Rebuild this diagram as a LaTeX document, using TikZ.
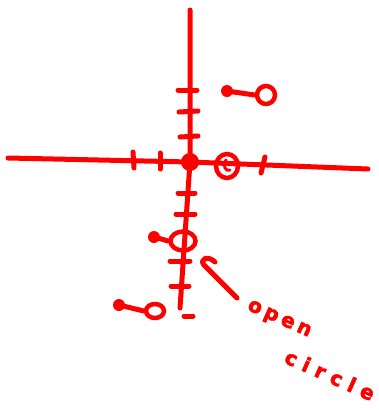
\documentclass[tikz,border=0pt]{standalone}
\usepackage{fontspec}
\usetikzlibrary{shapes.geometric}
\newfontfamily\handfont[FakeBold=2.5]{DejaVu Sans}
\begin{document}
\begin{tikzpicture}[x=1pt,y=-1pt,
  pen/.style={red, line width=5pt, line cap=round, line join=round},
  dotn/.style={circle, fill=red, inner sep=0pt, minimum size=12pt},
  ocirc/.style={ellipse, draw=red, line width=4.5pt, inner sep=0pt},
  lbl/.style={text=red, font=\handfont\bfseries\fontsize{20}{22}\selectfont, rotate=-24, inner sep=0pt}]
\useasboundingbox (0,0) rectangle (379,410);
% axes
\coordinate (xl) at (8,158);
\coordinate (xr) at (368,169);
\coordinate (yt) at (190,10);
\coordinate (yb) at (180,308);
\node[dotn, minimum size=18pt] (o) at (190,162) {};
\draw[pen] (xl) -- (o.center) -- (xr);
\draw[pen] (yt) -- (o.center) -- (yb);
\draw[pen] (184,316) -- (193,316);
% vertical ticks
\draw[pen] (178,90) -- (197,90);
\draw[pen] (179,112) -- (198,111);
\draw[pen] (180,137) -- (198,136);
\draw[pen] (178,193) -- (195,193);
\draw[pen] (176,214) -- (195,214);
\draw[pen] (170,261) -- (190,261);
\draw[pen] (171,286) -- (189,286);
% horizontal ticks
\draw[pen] (133,152) -- (134,168);
\draw[pen] (160,153) -- (160,169);
\draw[pen] (265,157) -- (261,173);
% open circle on x axis
\node[ocirc, minimum width=22pt, minimum height=24pt] (cx) at (227,166) {};
\draw[red, line width=3pt, line cap=round] (226,160) .. controls (222,166) and (226,172) .. (230,170);
% open circle on y axis with dot
\node[ocirc, minimum width=25pt, minimum height=19pt] (cy) at (183,241) {};
\node[dotn] (dy) at (154,237) {};
\draw[pen] (dy.center) -- (cy.west);
% top right
\node[dotn] (d1) at (227,91) {};
\node[ocirc, minimum width=18pt, minimum height=18pt] (c1) at (266,95) {};
\draw[pen] (d1.center) -- (c1.west);
% bottom left
\node[dotn] (d2) at (119,305) {};
\node[ocirc, minimum width=18pt, minimum height=14pt] (c2) at (155,311) {};
\draw[pen] (d2.center) -- (c2.west);
% arrow
\coordinate (at) at (237,298);
\coordinate (ah) at (204,265);
\draw[pen] (at) -- (ah) .. controls (199,259) and (208,255) .. (215,262);
% label
\node[lbl] (l1) at (279,320) {o\kern4pt p\kern4pt e\kern4pt n};
\node[lbl] (l2) at (330,375) {c\kern7pt i\kern7pt r\kern7pt c\kern7pt l\kern7pt e};
\end{tikzpicture}
\end{document}
